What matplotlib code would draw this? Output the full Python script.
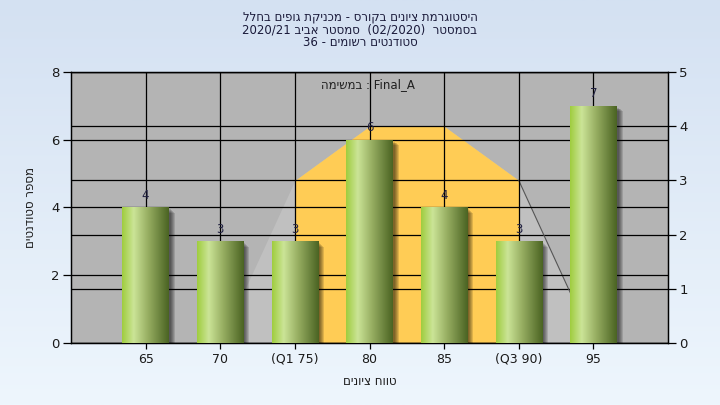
import numpy as np
import matplotlib
matplotlib.use("Agg")
import matplotlib.pyplot as plt
import matplotlib.transforms as mtransforms
from matplotlib.colors import LinearSegmentedColormap

plt.rcParams['font.family'] = ['DejaVu Sans']

# ---------------- data ----------------
categories = ["65", "70", "(Q1 75)", "80", "85", "(Q3 90)", "95"]
counts = [4, 3, 3, 6, 4, 3, 7]
curve_values = [0, 3, 4, 4, 3, 0]          # right-axis values at categories 70..95
curve_start = 1                             # index of first curve point (70)
q1_index, q3_index = 2, 5
title_lines = ["היסטוגרמת ציונים בקורס - מכניקת גופים בחלל",
               "בסמסטר  (02/2020)  סמסטר אביב 2020/21",
               "סטודנטים רשומים - 36"]
legend_text = "Final_A : במשימה"
xlabel = "טווח ציונים"
ylabel = "מספר סטודנטים"
left_ticks = [0, 2, 4, 6, 8]
right_ticks = [0, 1, 2, 3, 4, 5]


def rtl(s):
    words = s.split(' ')
    out = []
    for w in reversed(words):
        if any('\u0590' <= c <= '\u05ff' for c in w):
            out.append(w[::-1])
        else:
            out.append(w)
    return ' '.join(out)


W, H = 720, 405
fig = plt.figure(figsize=(W / 100, H / 100), dpi=100)

# background gradient
bg = fig.add_axes([0, 0, 1, 1], zorder=-10)
grad = np.linspace(0, 1, 256).reshape(-1, 1)
bg_cmap = LinearSegmentedColormap.from_list("bg", ["#d4e1f2", "#eef6fd"])
bg.imshow(grad, aspect='auto', cmap=bg_cmap, extent=[0, 1, 0, 1], origin='upper')
bg.set_axis_off()

L, R, T, B = 71, 668, 72, 343
rect = [L / W, 1 - B / H, (R - L) / W, (B - T) / H]
ax = fig.add_axes(rect)
ax2 = ax.twinx()
ax.set_zorder(ax2.get_zorder() + 1)
ax.patch.set_visible(False)
ax2.patch.set_visible(True)
ax2.patch.set_facecolor('#b4b4b4')

x = np.arange(len(categories))
ax.set_xlim(-1, len(categories))
ax.set_ylim(0, 8)
ax2.set_ylim(0, 5)

# normal-curve style area (right axis)
cx = np.arange(curve_start, curve_start + len(curve_values))
cy = np.array(curve_values, dtype=float)
ax2.fill_between(cx, 0, cy, color='#c0c0c0', lw=0, zorder=1)
mask = (cx >= q1_index) & (cx <= q3_index)
ax2.fill_between(cx[mask], 0, cy[mask], color='#ffcc55', lw=0, zorder=2)
ax2.plot(cx[cx >= q3_index], cy[cx >= q3_index], color='#555555', lw=0.8, zorder=3)

# grid lines
ax2.set_yticks(right_ticks)
ax2.grid(axis='y', color='black', lw=0.9, zorder=4)
ax2.set_axisbelow(False)
ax.set_yticks(left_ticks)
ax.set_xticks(x)
ax.set_xticklabels(categories)
ax.grid(True, color='black', lw=0.9)
ax.set_axisbelow(True)

# bars with shadow and gradient
width = 0.62
for k in range(5):
    off = mtransforms.offset_copy(ax.transData, fig=fig, x=2 + k * 1.0, y=-(2 + k * 0.8), units='dots')
    sb = ax.bar(x, counts, width=width, color='black', alpha=0.13, lw=0, zorder=3)
    for p in sb:
        p.set_transform(off)

bar_cmap = LinearSegmentedColormap.from_list(
    "bar", [(0.0, "#9fcd3e"), (0.25, "#cbe497"), (0.55, "#98af63"), (1.0, "#4a6322")])
bars = ax.bar(x, counts, width=width, color='#9fcd3e', lw=0, zorder=4)
hgrad = np.linspace(0, 1, 256).reshape(1, -1)
for p in bars:
    x0, y0 = p.get_x(), p.get_y()
    im = ax.imshow(hgrad, aspect='auto', cmap=bar_cmap,
                   extent=[x0, x0 + p.get_width(), y0, y0 + p.get_height()],
                   zorder=5, interpolation='bilinear')
    im.set_clip_path(p)
ax.set_xlim(-1, len(categories))
ax.set_ylim(0, 8)

ax.bar_label(bars, labels=[str(c) for c in counts], padding=4, fontsize=8.5,
             color='#202040', zorder=6)

# spines and ticks
for a in (ax, ax2):
    for s in a.spines.values():
        s.set_color('black')
        s.set_linewidth(0.9)
ax.tick_params(axis='y', direction='out', length=6, width=0.9, labelsize=9.5,
               colors='black', labelcolor='#1a1a1a', pad=2)
ax.tick_params(axis='x', direction='out', length=4, width=0.9, labelsize=9,
               labelcolor='#1a1a1a', pad=3)
ax2.tick_params(axis='y', direction='out', length=6, width=0.9, labelsize=9.5,
                labelcolor='#1a1a1a', pad=2)

ax.set_xlabel(rtl(xlabel), fontsize=8.5, color='#1a1a1a', labelpad=7)
ax.set_ylabel(rtl(ylabel), fontsize=8.5, color='#1a1a1a', labelpad=10)

ax.text(0.497, 0.952, rtl(legend_text), transform=ax.transAxes, ha='center', va='center',
        fontsize=8.5, color='#202020', zorder=10)

for i, line in enumerate(title_lines):
    fig.text(0.5, 1 - (17 + 13 * i) / H, rtl(line), ha='center', va='center',
             fontsize=8.5, color='#1a1a3a')

fig.savefig("out.png", dpi=100)
